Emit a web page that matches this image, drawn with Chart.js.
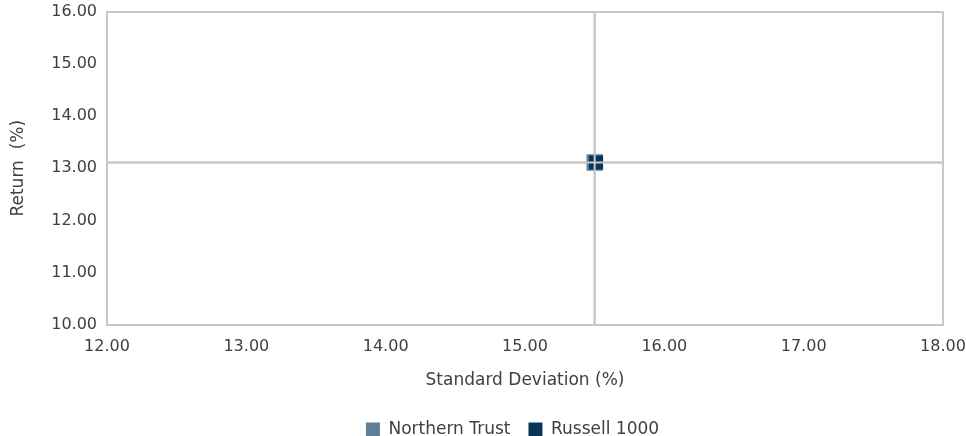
<!DOCTYPE html>
<html>
<head>
<meta charset="utf-8">
<script src="https://cdn.jsdelivr.net/npm/chart.js@4/dist/chart.umd.min.js"></script>
<style>
  html, body { margin: 0; padding: 0; background: #ffffff; }
  #wrap { width: 966px; height: 436px; }
</style>
</head>
<body>
<div id="wrap"><canvas id="c" width="966" height="436"></canvas></div>
<script>
// Risk / return scatter: annualised standard deviation vs return
const seriesNames = ['Northern Trust', 'Russell 1000'];
const seriesColors = ['#5f7f94', '#0b3558'];
const stdDev = [15.50, 15.51];
const returns = [13.11, 13.11];

// Reference cross-hair at the benchmark's risk and return
const benchmarkStdDev = 15.50;
const benchmarkReturn = 13.11;

const xMin = 12, xMax = 18, yMin = 10, yMax = 16;
const lineColor = '#c8c8c8';
const textColor = '#404040';
const fontFamily = '"DejaVu Sans", sans-serif';

const pointDatasets = seriesNames.map((name, i) => ({
  label: name,
  data: [{ x: stdDev[i], y: returns[i] }],
  backgroundColor: seriesColors[i],
  borderColor: seriesColors[i],
  borderWidth: 0,
  pointStyle: 'rect',
  pointRadius: i === 0 ? 11.5 : 10,
  order: seriesNames.length - i
}));

const crossDatasets = [
  { label: 'vline', data: [{ x: benchmarkStdDev, y: yMin }, { x: benchmarkStdDev, y: yMax }] },
  { label: 'hline', data: [{ x: xMin, y: benchmarkReturn }, { x: xMax, y: benchmarkReturn }] }
].map(d => Object.assign(d, {
  showLine: true, borderColor: lineColor, borderWidth: 2, pointRadius: 0,
  fill: false, order: 10, isCross: true
}));

// Only the outer frame is drawn, no inner grid lines
const edgeGrid = (lo, hi) => (ctx) => {
  const v = ctx.tick && ctx.tick.value;
  return (v === lo || v === hi) ? lineColor : 'rgba(0,0,0,0)';
};

// Cross-hair lines over the square markers, as in the printed chart
const crossOnTop = {
  id: 'crossOnTop',
  afterDatasetsDraw(chart) {
    const { ctx, chartArea: a, scales: { x, y } } = chart;
    const px = x.getPixelForValue(benchmarkStdDev);
    const py = y.getPixelForValue(benchmarkReturn);
    ctx.save();
    ctx.strokeStyle = lineColor;
    ctx.lineWidth = 2;
    ctx.beginPath();
    ctx.moveTo(px, a.top); ctx.lineTo(px, a.bottom);
    ctx.moveTo(a.left, py); ctx.lineTo(a.right, py);
    ctx.stroke();
    ctx.restore();
  }
};

// Nudge the legend block to the right of the canvas centre
const legendShift = {
  id: 'legendShift',
  afterLayout(chart) {
    const lg = chart.legend;
    if (lg) { lg.left += 41; lg.right += 41; }
  }
};

new Chart(document.getElementById('c'), {
  type: 'scatter',
  data: { datasets: [...pointDatasets, ...crossDatasets] },
  plugins: [legendShift, crossOnTop],
  options: {
    responsive: false,
    animation: false,
    layout: { padding: { left: 0, right: 23, top: 10, bottom: -12 } },
    plugins: {
      tooltip: { enabled: false },
      legend: {
        position: 'bottom',
        labels: {
          filter: (item, data) => !data.datasets[item.datasetIndex].isCross,
          sort: (a, b) => a.datasetIndex - b.datasetIndex,
          boxWidth: 14, boxHeight: 14,
          color: textColor,
          font: { family: fontFamily, size: 17 },
          padding: 18
        }
      }
    },
    scales: {
      x: {
        type: 'linear', min: xMin, max: xMax,
        ticks: {
          stepSize: 1, color: textColor, padding: 12,
          font: { family: fontFamily, size: 16 },
          callback: v => v.toFixed(2)
        },
        grid: { color: edgeGrid(xMin, xMax), lineWidth: 2, drawTicks: false },
        border: { color: lineColor, width: 2 },
        title: {
          display: true, text: 'Standard Deviation (%)', color: textColor,
          font: { family: fontFamily, size: 17 }, padding: { top: 10, bottom: 12 }
        },
        afterFit: s => { s.height = 78; s.paddingLeft = 0; s.paddingRight = 0; }
      },
      y: {
        type: 'linear', min: yMin, max: yMax,
        ticks: {
          stepSize: 1, color: textColor, padding: 10,
          font: { family: fontFamily, size: 16 },
          callback: v => v.toFixed(2)
        },
        grid: { color: edgeGrid(yMin, yMax), lineWidth: 2, drawTicks: false },
        border: { color: lineColor, width: 2 },
        title: {
          display: true, text: 'Return  (%)', color: textColor,
          font: { family: fontFamily, size: 17 }, padding: { top: 8, bottom: 14 }
        },
        afterFit: s => { s.width = 107; s.paddingTop = 0; s.paddingBottom = 0; }
      }
    }
  }
});
</script>
</body>
</html>
